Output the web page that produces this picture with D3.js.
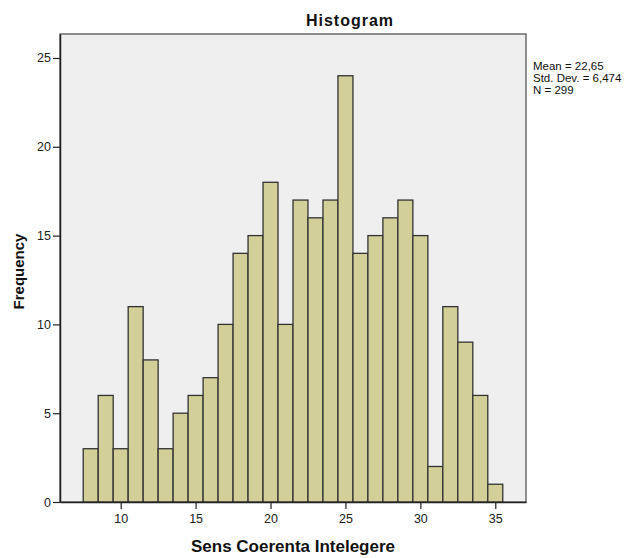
<!DOCTYPE html>
<html>
<head>
<meta charset="utf-8">
<script src="https://cdn.jsdelivr.net/npm/d3@7"></script>
<style>
  html, body { margin: 0; padding: 0; background: #fff; }
  svg { display: block; font-family: "Liberation Sans", Arial, sans-serif; }
</style>
</head>
<body>
<svg id="chart" width="631" height="558"></svg>
<script>
// Score bins (centre values, width 1) and their counts
const binCenters = [8, 9, 10, 11, 12, 13, 14, 15, 16, 17, 18, 19, 20, 21, 22, 23, 24, 25, 26, 27, 28, 29, 30, 31, 32, 33, 34, 35];
const frequencies = [3, 6, 3, 11, 8, 3, 5, 6, 7, 10, 14, 15, 18, 10, 17, 16, 17, 24, 14, 15, 16, 17, 15, 2, 11, 9, 6, 1];
const xTicks = [10, 15, 20, 25, 30, 35];
const yTicks = [0, 5, 10, 15, 20, 25];
const statsLines = ["Mean = 22,65", "Std. Dev. = 6,474", "N = 299"];

const svg = d3.select("#chart");
const plot = { left: 60, top: 34, right: 526, bottom: 502 };

const x = d3.scaleLinear().domain([5.95, 37.05]).range([plot.left, plot.right]);
const y = d3.scaleLinear().domain([0, 26.35]).range([plot.bottom, plot.top]);

// Plot background and frame
svg.append("rect")
  .attr("x", plot.left).attr("y", plot.top)
  .attr("width", plot.right - plot.left).attr("height", plot.bottom - plot.top)
  .attr("fill", "#efefef")
  .attr("stroke", "#555").attr("stroke-width", 1.3);

// Bars
svg.append("g").selectAll("rect")
  .data(binCenters.map((c, i) => ({ c, f: frequencies[i] })))
  .join("rect")
  .attr("x", d => x(d.c - 0.5))
  .attr("y", d => y(d.f))
  .attr("width", d => x(d.c + 0.5) - x(d.c - 0.5))
  .attr("height", d => y(0) - y(d.f))
  .attr("fill", "#d3cf98")
  .attr("stroke", "#333")
  .attr("stroke-width", 1.3);

// Axes
const yAxis = d3.axisLeft(y).tickValues(yTicks).tickSize(7).tickPadding(2).tickSizeOuter(0);
const xAxis = d3.axisBottom(x).tickValues(xTicks).tickSize(7).tickPadding(5).tickSizeOuter(0);

const gy = svg.append("g").attr("transform", `translate(${plot.left},0)`).call(yAxis);
const gx = svg.append("g").attr("transform", `translate(0,${plot.bottom})`).call(xAxis);

[gy, gx].forEach(g => {
  g.select(".domain").attr("stroke", "#222").attr("stroke-width", 1.5);
  g.selectAll(".tick line").attr("stroke", "#222").attr("stroke-width", 1.2);
  g.selectAll(".tick text").attr("fill", "#222").style("font-size", "12.5px")
    .style("font-family", "'Liberation Sans', Arial, sans-serif");
});

// Title
svg.append("text")
  .attr("x", 350).attr("y", 26)
  .attr("text-anchor", "middle")
  .style("font-size", "16px").style("font-weight", "bold")
  .style("letter-spacing", "1px")
  .attr("fill", "#111")
  .text("Histogram");

// Axis titles
svg.append("text")
  .attr("x", (plot.left + plot.right) / 2).attr("y", 552)
  .attr("text-anchor", "middle")
  .style("font-size", "17px").style("font-weight", "bold")
  .attr("fill", "#111")
  .text("Sens Coerenta Intelegere");

svg.append("text")
  .attr("transform", `translate(23.5,271.5) rotate(-90)`)
  .attr("text-anchor", "middle")
  .style("font-size", "15px").style("font-weight", "bold")
  .attr("fill", "#111")
  .text("Frequency");

// Summary statistics
svg.append("g").selectAll("text")
  .data(statsLines)
  .join("text")
  .attr("x", 533)
  .attr("y", (d, i) => 70 + i * 12)
  .style("font-size", "11.5px")
  .attr("fill", "#111")
  .text(d => d);
</script>
</body>
</html>
